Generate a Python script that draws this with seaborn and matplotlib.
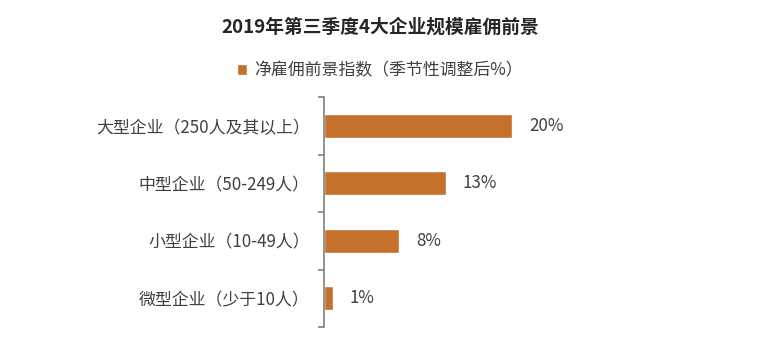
import matplotlib
matplotlib.use("Agg")
import matplotlib.pyplot as plt
import seaborn as sns
import pandas as pd

categorias = ["大型企业（250人及其以上）", "中型企业（50-249人）", "小型企业（10-49人）", "微型企业（少于10人）"]
valores = [20, 13, 8, 1]
etiquetas = ["20%", "13%", "8%", "1%"]
serie = "净雇佣前景指数（季节性调整后%）"
titulo = "2019年第三季度4大企业规模雇佣前景"

sns.set_style("white")
plt.rcParams["font.family"] = ["Noto Sans CJK SC", "DejaVu Sans"]

df = pd.DataFrame({"categoria": categorias, "valor": valores})

fig = plt.figure(figsize=(7.6, 3.52), dpi=100)
ax = fig.add_axes([0.426, 0.071, 0.31, 0.653])

sns.barplot(data=df, x="valor", y="categoria", orient="h", color="#C4722B",
            saturation=1, width=0.42, label=serie, ax=ax)

ax.set_xlim(0, 25)
ax.set_ylim(3.5, -0.5)
for s in ["top", "right", "bottom"]:
    ax.spines[s].set_visible(False)
ax.spines["left"].set_color("#7f7f7f")
ax.spines["left"].set_linewidth(1.2)
ax.set_xticks([])
ax.set_xlabel("")
ax.set_ylabel("")

# ticks at category boundaries
ax.set_yticks([-0.5, 0.5, 1.5, 2.5, 3.5], minor=True)
ax.tick_params(axis="y", which="minor", left=True, length=4, width=1.2,
               color="#7f7f7f", direction="out")
ax.tick_params(axis="y", which="major", length=0, pad=10, labelsize=12.2, labelcolor="#404040")

ax.bar_label(ax.containers[0], labels=etiquetas, padding=12, fontsize=12.2, color="#404040")

fig.suptitle(titulo, x=0.5, y=0.923, va="center", fontsize=13.5, fontweight="bold", color="#262626")
ax.legend(loc="center", bbox_to_anchor=(0.5, 0.80), bbox_transform=fig.transFigure,
          frameon=False, fontsize=12.2, handlelength=0.6, handleheight=0.6,
          handletextpad=0.4, labelcolor="#404040")

fig.savefig("out.png", dpi=100)
plt.close()
